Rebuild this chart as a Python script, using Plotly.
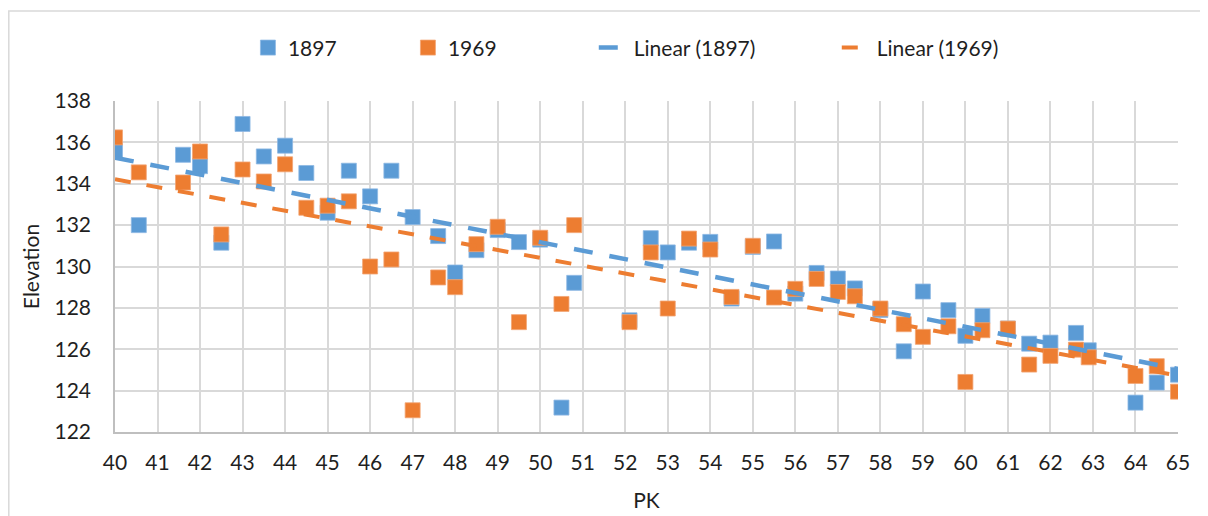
import numpy as np
import plotly.graph_objects as go

# ---- data ----
pk_1897 = [40, 40.56, 41.6, 42.0, 42.5, 43.0, 43.5, 44.0, 44.5, 45.0, 45.5, 46.0, 46.5, 47.0,
           47.6, 48.0, 48.5, 49.0, 49.5, 50.0, 50.5, 50.8, 52.1, 52.6, 53.0, 53.5, 54.0, 54.5,
           55.0, 55.5, 56.0, 56.5, 57.0, 57.4, 58.0, 58.55, 59.0, 59.6, 60.0, 60.4, 61.0, 61.5,
           62.0, 62.6, 62.9, 64.0, 64.5, 65.0]
elev_1897 = [135.63, 132.0, 135.4, 134.85, 131.15, 136.89, 135.32, 135.84, 134.52, 132.6, 134.63,
             133.39, 134.63, 132.39, 131.47, 129.71, 130.79, 131.76, 131.18, 131.3, 123.18, 129.21,
             127.4, 131.37, 130.68, 131.15, 131.19, 128.45, 130.95, 131.21, 128.69, 129.69, 129.42,
             128.94, 127.9, 125.9, 128.79, 127.89, 126.65, 127.61, 127.0, 126.27, 126.32, 126.79,
             125.95, 123.42, 124.39, 124.77]

pk_1969 = [40, 40.56, 41.6, 42.0, 42.5, 43.0, 43.5, 44.0, 44.5, 45.0, 45.5, 46.0, 46.5, 47.0,
           47.6, 48.0, 48.5, 49.0, 49.5, 50.0, 50.5, 50.8, 52.1, 52.6, 53.0, 53.5, 54.0, 54.5,
           55.0, 55.5, 56.0, 56.5, 57.0, 57.4, 58.0, 58.55, 59.0, 59.6, 60.0, 60.4, 61.0, 61.5,
           62.0, 62.6, 62.9, 64.0, 64.5, 65.0]
elev_1969 = [136.24, 134.55, 134.06, 135.56, 131.55, 134.69, 134.11, 134.94, 132.84, 132.94, 133.15,
             130.0, 130.34, 123.05, 129.47, 129.0, 131.08, 131.92, 127.31, 131.39, 128.19, 132.0,
             127.31, 130.68, 127.97, 131.35, 130.82, 128.53, 131.0, 128.5, 128.92, 129.4, 128.77,
             128.56, 127.97, 127.21, 126.6, 127.11, 124.42, 126.92, 127.0, 125.26, 125.68, 125.98,
             125.61, 124.71, 125.18, 123.95]

x_ticks = list(range(40, 66))
y_ticks = list(range(122, 139, 2))

BLUE = "#5B9BD5"
ORANGE = "#ED7D31"
FONT = "Lato"
FS = 21
TXT = "#1f1f1f"

# linear trendlines (least squares, like Excel)
def trend(x, y):
    k, b = np.polyfit(np.array(x), np.array(y), 1)
    xs = np.array([min(x_ticks), max(x_ticks)], dtype=float)
    return xs, k * xs + b

tx1, ty1 = trend(pk_1897, elev_1897)
tx2, ty2 = trend(pk_1969, elev_1969)

fig = go.Figure()
fig.add_trace(go.Scatter(x=pk_1897, y=elev_1897, mode="markers", name="1897",
                         marker=dict(symbol="square", size=15, color=BLUE,
                                     line=dict(width=0.8, color="#8db8e3")),
                         legend="legend"))
fig.add_trace(go.Scatter(x=pk_1969, y=elev_1969, mode="markers", name="1969",
                         marker=dict(symbol="square", size=15, color=ORANGE,
                                     line=dict(width=0.8, color="#f3a473")),
                         legend="legend"))
fig.add_trace(go.Scatter(x=tx1, y=ty1, mode="lines", name="Linear (1897)",
                         line=dict(color=BLUE, width=4.5, dash="19px,17px"),
                         legend="legend2"))
fig.add_trace(go.Scatter(x=tx2, y=ty2, mode="lines", name="Linear (1969)",
                         line=dict(color=ORANGE, width=4, dash="16px,16px"),
                         legend="legend2"))

# page body adds an 8px offset; figure sized to fit the 1208x516 window
OFF = 8
W, H = 1208 - OFF, 516 - OFF
L = 115 - OFF
T = 101 - OFF
R = W - (1178.5 - OFF)
B = H - (431.7 - OFF)
pw = W - L - R
ph = H - T - B

def px_x(p):
    return (p - OFF - L) / pw

def px_y(p):
    return (H - B - (p - OFF)) / ph

fig.update_layout(
    width=W, height=H,
    margin=dict(l=L, r=R, t=T, b=B, autoexpand=False),
    paper_bgcolor="white", plot_bgcolor="white",
    font=dict(family=FONT, size=FS, color=TXT),
    legend=dict(orientation="h", x=px_x(248), xanchor="left", y=px_y(48), yanchor="middle",
                entrywidth=115, entrywidthmode="pixels", font=dict(size=FS, color=TXT),
                bgcolor="rgba(0,0,0,0)", itemwidth=30),
    legend2=dict(orientation="h", x=px_x(594), xanchor="left", y=px_y(48), yanchor="middle",
                 entrywidth=198, entrywidthmode="pixels", font=dict(size=FS, color=TXT),
                 bgcolor="rgba(0,0,0,0)", itemwidth=30),
    xaxis=dict(range=[40, 65], tickmode="array", tickvals=x_ticks,
               ticktext=[str(v) for v in x_ticks], automargin=False,
               showgrid=True, gridcolor="#d9d9d9", gridwidth=1.5,
               showline=True, linecolor="#bfbfbf", linewidth=1.5,
               zeroline=False, ticks="", ticklabelstandoff=11,
               title=dict(text="PK", standoff=20, font=dict(size=FS)),
               tickfont=dict(size=FS)),
    yaxis=dict(range=[122, 138], tickmode="array", tickvals=y_ticks,
               ticktext=[str(v) for v in y_ticks], automargin=False,
               showgrid=True, gridcolor="#d9d9d9", gridwidth=1.5,
               showline=True, linecolor="#bfbfbf", linewidth=1.5,
               zeroline=False, ticks="", ticklabelstandoff=18,
               title=dict(text="Elevation", standoff=9, font=dict(size=FS)),
               tickfont=dict(size=FS)),
    shapes=[dict(type="rect", xref="paper", yref="paper",
                 x0=px_x(8.75), x1=px_x(1260), y0=px_y(600), y1=px_y(11),
                 line=dict(color="#d9d9d9", width=1.5), fillcolor="rgba(0,0,0,0)",
                 layer="below")],
)

fig.write_html("out.html")
